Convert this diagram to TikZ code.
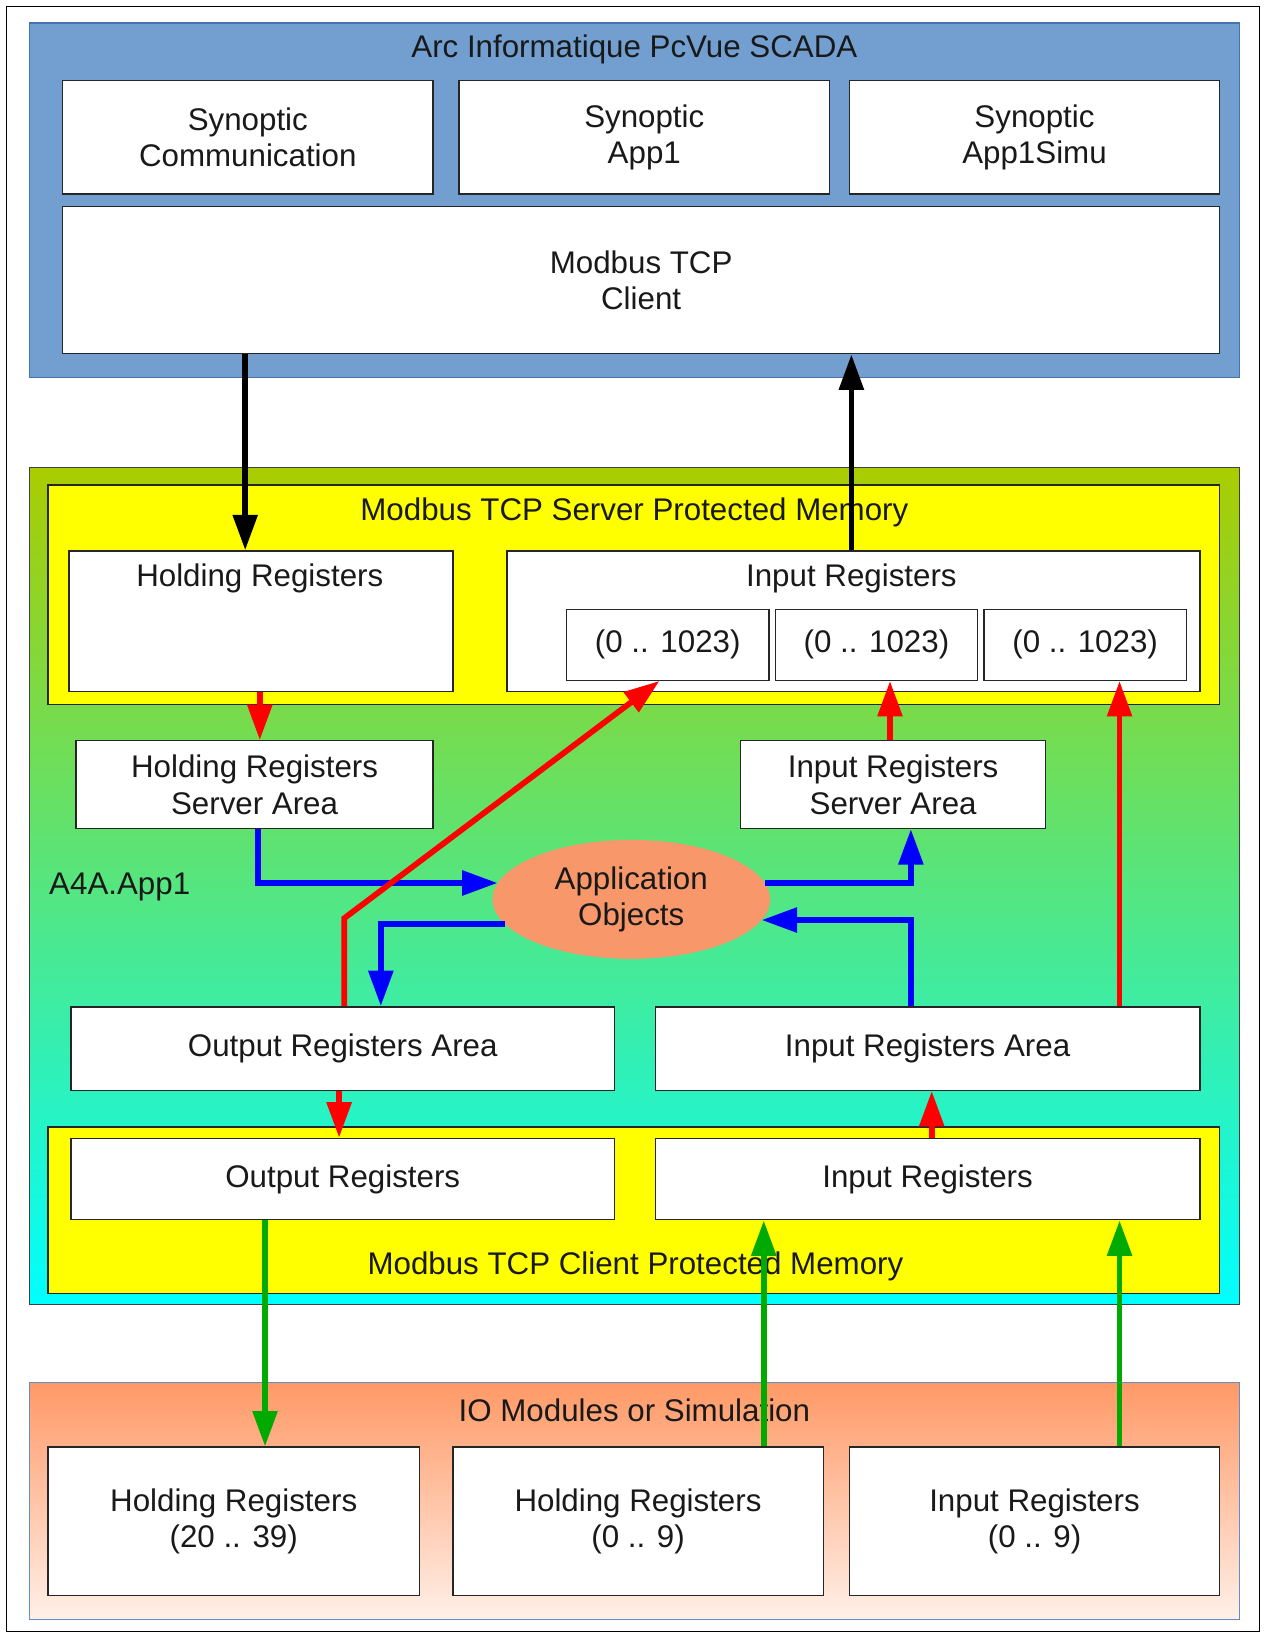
\documentclass[tikz,border=0pt]{standalone}
\usepackage{fontspec}
\setmainfont{Liberation Sans}
\usetikzlibrary{arrows.meta,shapes.geometric}
\definecolor{scadablue}{RGB}{114,159,207}
\definecolor{scadaedge}{RGB}{70,115,175}
\definecolor{limetop}{RGB}{170,204,0}
\definecolor{cyanbot}{RGB}{0,255,255}
\definecolor{salmon}{RGB}{247,151,106}
\definecolor{iotop}{RGB}{255,153,102}
\definecolor{iobot}{RGB}{255,240,232}
\definecolor{ioedge}{RGB}{100,140,200}
\definecolor{arrgreen}{RGB}{0,170,0}
\definecolor{txtc}{RGB}{25,25,25}
\definecolor{pureyellow}{RGB}{255,255,0}
\begin{document}
\begin{tikzpicture}[x=1pt,y=-1pt,
  font=\fontsize{30}{35}\selectfont,
  box/.style={draw=black!85, line width=1.3pt, fill=white, inner sep=0pt, align=center, text=txtc},
  container/.style={line width=1.3pt, inner sep=0pt},
  txt/.style={inner sep=0pt, align=center, text=txtc},
  conn/.style={line width=5.5pt, -{Triangle[length=34pt,width=23pt]}},
  blk/.style={conn, draw=black},
  redc/.style={conn, draw=red},
  bluec/.style={conn, draw=blue, line join=miter},
  grnc/.style={conn, draw=arrgreen}]
\useasboundingbox (0,0) rectangle (1212,1568);
\node[draw=black, line width=1pt, minimum width=1201pt, minimum height=1558pt, inner sep=0pt] (frame) at (606.5,785) {};

% SCADA
\node[container, draw=scadaedge, fill=scadablue, minimum width=1160pt, minimum height=340pt] (scada) at (608,192) {};
\node[txt] (scadat) at (608,47) {Arc Informatique PcVue SCADA};
\node[box, minimum width=355pt, minimum height=109pt] (syncom) at (237.5,131.5) {Synoptic\\Communication};
\node[box, minimum width=355pt, minimum height=109pt] (synapp) at (617.5,131.5) {Synoptic\\App1};
\node[box, minimum width=355pt, minimum height=109pt] (synsimu) at (991.5,131.5) {Synoptic\\App1Simu};
\node[box, minimum width=1109pt, minimum height=141pt] (client) at (614.5,268.5) {Modbus TCP\\Client};

% A4A
\node[container, draw=black!75, top color=limetop, bottom color=cyanbot, minimum width=1160pt, minimum height=802pt] (a4a) at (608,849) {};
\node[txt, anchor=west] (a4at) at (47,850) {A4A.App1};

\node[container, draw=black!85, fill=pureyellow, minimum width=1123pt, minimum height=210pt] (srvmem) at (607.5,570) {};
\node[txt] (srvmemt) at (608,491) {Modbus TCP Server Protected Memory};
\node[box, minimum width=368pt, minimum height=135pt] (hr) at (250,595.5) {};
\node[txt] (hrt) at (249,554) {Holding Registers};
\node[box, minimum width=664pt, minimum height=135pt] (ir) at (818,595.5) {};
\node[txt] (irt) at (816,554) {Input Registers};
\node[box, minimum width=194pt, minimum height=68pt] (sub1) at (640,618) {(0 .. 1023)};
\node[box, minimum width=194pt, minimum height=68pt] (sub2) at (840,618) {(0 .. 1023)};
\node[box, minimum width=194pt, minimum height=68pt] (sub3) at (1040,618) {(0 .. 1023)};

\node[box, minimum width=342pt, minimum height=84pt] (hrsa) at (244,752) {Holding Registers\\Server Area};
\node[box, minimum width=292pt, minimum height=84pt] (irsa) at (856,752) {Input Registers\\Server Area};
\node[ellipse, fill=salmon, inner sep=0pt, minimum width=266pt, minimum height=114pt, align=center, text=txtc] (appobj) at (605,862) {Application\\Objects};

\node[box, minimum width=521pt, minimum height=80pt] (ora) at (328.5,1005) {Output Registers Area};
\node[box, minimum width=522pt, minimum height=80pt] (ira) at (889,1005) {Input Registers Area};

\node[container, draw=black!85, fill=pureyellow, minimum width=1123pt, minimum height=160pt] (climem) at (607.5,1160) {};
\node[txt] (climemt) at (609,1214) {Modbus TCP Client Protected Memory};
\node[box, minimum width=521pt, minimum height=78pt] (outreg) at (328.5,1130) {Output Registers};
\node[box, minimum width=522pt, minimum height=78pt] (inreg) at (889,1130) {Input Registers};

% IO
\node[container, draw=ioedge, top color=iotop, bottom color=iobot, minimum width=1160pt, minimum height=227pt] (io) at (608,1438.5) {};
\node[txt] (iot) at (608,1352) {IO Modules or Simulation};
\node[box, minimum width=356pt, minimum height=142pt] (io1) at (224,1458) {Holding Registers\\(20 .. 39)};
\node[box, minimum width=355pt, minimum height=142pt] (io2) at (611.5,1458) {Holding Registers\\(0 .. 9)};
\node[box, minimum width=355pt, minimum height=142pt] (io3) at (991.5,1458) {Input Registers\\(0 .. 9)};

% column coordinates
\coordinate (xk1) at (235,0);
\coordinate (xk2) at (816,0);
\coordinate (xr1) at (249,0);
\coordinate (xr2) at (853,0);
\coordinate (bend1) at (330,880);
\coordinate (xr3) at (632,0);
\coordinate (xr4) at (1073,0);
\coordinate (xr5) at (325,0);
\coordinate (xr6) at (893,0);
\coordinate (xb1) at (247,0);
\coordinate (xb2) at (873,0);
\coordinate (xb3) at (365,0);
\coordinate (xg1) at (254,0);
\coordinate (xg2) at (732,0);
\coordinate (xg3) at (1073,0);

% black
\draw[blk] (client.south -| xk1) -- (hr.north -| xk1);
\draw[blk] (ir.north -| xk2) -- (client.south -| xk2);

% blue
\draw[bluec] (hrsa.south -| xb1) -- (xb1 |- appobj.173) -- (appobj.173);
\draw[bluec] (appobj.7) -- (xb2 |- appobj.7) -- (irsa.south -| xb2);
\draw[bluec] (appobj.191) -- (xb3 |- appobj.191) -- (ora.north -| xb3);
\draw[bluec] (ira.north -| xb2) -- (xb2 |- appobj.351) -- (appobj.351);

% red
\draw[redc] (hr.south -| xr1) -- (hrsa.north -| xr1);
\draw[redc] (irsa.north -| xr2) -- (sub2.south -| xr2);
\draw[redc, line join=miter] (ora.north -| bend1) -- (bend1) -- (sub1.south -| xr3);
\draw[redc] (ira.north -| xr4) -- (sub3.south -| xr4);
\draw[redc] (ora.south -| xr5) -- (outreg.north -| xr5);
\draw[redc] (inreg.north -| xr6) -- (ira.south -| xr6);

% green
\draw[grnc] (outreg.south -| xg1) -- (io1.north -| xg1);
\draw[grnc] (io2.north -| xg2) -- (inreg.south -| xg2);
\draw[grnc] (io3.north -| xg3) -- (inreg.south -| xg3);
\end{tikzpicture}
\end{document}
